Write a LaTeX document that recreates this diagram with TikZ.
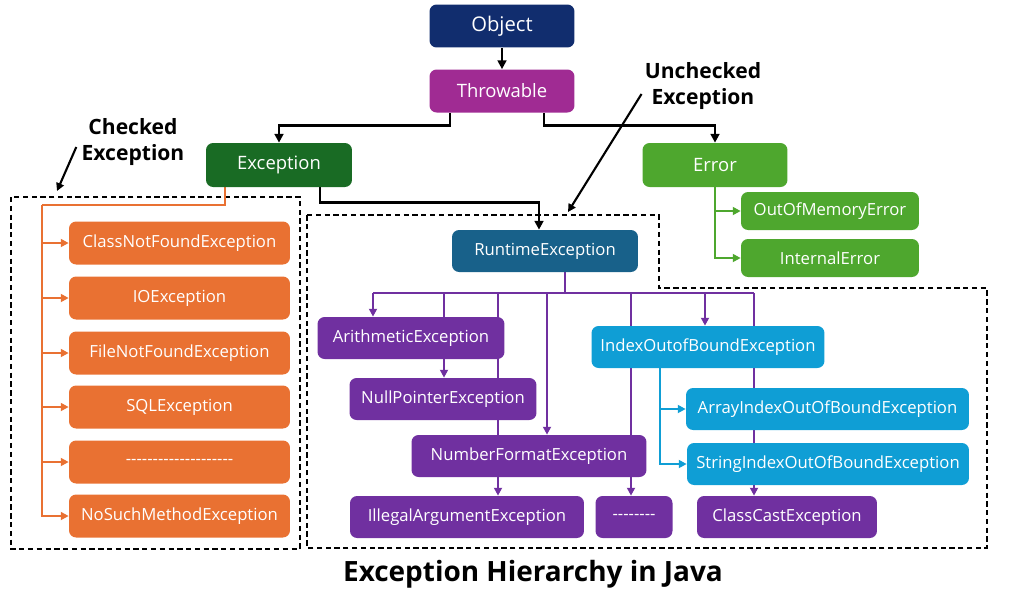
\documentclass[tikz,border=0pt]{standalone}
\usepackage{fontspec}
\setmainfont{Open Sans}[Ligatures=TeXOff]
\usetikzlibrary{arrows.meta,backgrounds}
\definecolor{cobj}{HTML}{112D6E}
\definecolor{cthr}{HTML}{A02B93}
\definecolor{cexc}{HTML}{196B24}
\definecolor{cerr}{HTML}{4EA72E}
\definecolor{cchk}{HTML}{E97132}
\definecolor{crte}{HTML}{18618A}
\definecolor{cpur}{HTML}{7030A0}
\definecolor{cblu}{HTML}{0F9ED5}
\begin{document}
\begin{tikzpicture}[x=0.02cm,y=-0.02cm,
    box/.style={rounded corners=4pt,inner sep=0pt,minimum height=0.84cm,text=white,font=\fontsize{9.5}{11}\selectfont},
    lbl/.style={inner sep=0pt,align=center,font=\bfseries\fontsize{12}{15}\selectfont},
    karr/.style={line width=1.6pt,-{Triangle[length=5pt,width=5pt]}},
    tarr/.style={line width=1.2pt,-{Triangle[length=4.5pt,width=4.5pt]}},
    cline/.style={line width=1.5pt,draw=#1},
    carr/.style={line width=1.5pt,draw=#1,-{Triangle[length=4.5pt,width=4.5pt]}},
    grp/.style={line width=0.8pt,dash pattern=on 3pt off 2pt}]
    \useasboundingbox (0,0) rectangle (1024,589);
    \node[box,fill=cobj,minimum width=2.9cm,minimum height=0.86cm] (obj) at (502,26) {\fontsize{11.5}{13}\selectfont Object};
    \node[box,fill=cthr,minimum width=2.9cm,minimum height=0.86cm] (thr) at (502,91) {\fontsize{10.5}{13}\selectfont Throwable};
    \node[box,fill=cexc,minimum width=2.92cm,minimum height=0.88cm] (exc) at (279,165) {\fontsize{10.5}{13}\selectfont Exception};
    \node[box,fill=cerr,minimum width=2.9cm,minimum height=0.88cm] (err) at (715,165) {\fontsize{10.5}{13}\selectfont Error};
    \node[box,fill=cerr,minimum width=3.56cm,minimum height=0.76cm] (oom) at (830,211) {OutOfMemoryError};
    \node[box,fill=cerr,minimum width=3.56cm,minimum height=0.76cm] (ine) at (830,258) {InternalError};
    \node[box,fill=cchk,minimum width=4.42cm,minimum height=0.86cm] (chk1) at (179.5,243) {ClassNotFoundException};
    \node[box,fill=cchk,minimum width=4.42cm,minimum height=0.86cm] (chk2) at (179.5,298) {IOException};
    \node[box,fill=cchk,minimum width=4.42cm,minimum height=0.86cm] (chk3) at (179.5,353) {FileNotFoundException};
    \node[box,fill=cchk,minimum width=4.42cm,minimum height=0.86cm] (chk4) at (179.5,407) {SQLException};
    \node[box,fill=cchk,minimum width=4.42cm,minimum height=0.86cm] (chk5) at (179.5,462) {--------------------};
    \node[box,fill=cchk,minimum width=4.42cm,minimum height=0.86cm] (chk6) at (179.5,516) {NoSuchMethodException};
    \node[box,fill=crte,minimum width=3.72cm] (rte) at (545,251) {RuntimeException};
    \node[box,fill=cpur,minimum width=3.74cm] (ari) at (411,338) {ArithmeticException};
    \node[box,fill=cpur,minimum width=3.74cm] (nul) at (443,399) {NullPointerException};
    \node[box,fill=cpur,minimum width=4.7cm] (num) at (529,456) {NumberFormatException};
    \node[box,fill=cpur,minimum width=4.68cm] (ill) at (467,517) {IllegalArgumentException};
    \node[box,fill=cpur,minimum width=1.54cm] (dsh) at (634,517) {--------};
    \node[box,fill=cblu,minimum width=4.66cm] (iob) at (708,347) {IndexOutofBoundException};
    \node[box,fill=cblu,minimum width=5.66cm] (aio) at (827.5,409) {ArrayIndexOutOfBoundException};
    \node[box,fill=cblu,minimum width=5.64cm] (sio) at (828,464) {StringIndexOutOfBoundException};
    \node[box,fill=cpur,minimum width=3.6cm] (ccx) at (787,517) {ClassCastException};
    \node[lbl] (chk) at (133,142) {Checked\\Exception};
    \node[lbl] (unc) at (703,86) {Unchecked\\Exception};
    \node[inner sep=0pt,font=\bfseries\fontsize{15.9}{18}\selectfont] (ttl) at (533,574) {Exception Hierarchy in Java};
    \coordinate (chkend) at (57,191);
    \coordinate (uncend) at (568,212);
    \coordinate (cb) at (42,205);
    \coordinate (rs) at (565,293);
    \coordinate (b1) at (373,293);
    \coordinate (b2) at (444,293);
    \coordinate (b3) at (498,293);
    \coordinate (b4) at (547,293);
    \coordinate (b5) at (631,293);
    \coordinate (b6) at (705,293);
    \coordinate (b7) at (754,293);
    \begin{scope}[on background layer]
    \draw[grp] (11,197) rectangle (300,549);
    \draw[grp] (307,215) -- (659,215) -- (659,288) -- (987,288) -- (987,548) -- (307,548) -- cycle;
    \draw[karr] (obj) -- (thr);
    \draw[karr] ([xshift=-1.04cm]thr.south) -- ++(0,12.5) -| (exc.north);
    \draw[karr] ([xshift=0.84cm]thr.south) -- ++(0,12.5) -| (err.north);
    \draw[karr] ([xshift=0.82cm]exc.south) -- ++(0,15.5) -| ([xshift=-0.12cm]rte.north);
    \draw[tarr] ([shift={(-0.1cm,-0.1cm)}]chk.west) -- (chkend);
    \draw[tarr] ([shift={(-0.06cm,-0.16cm)}]unc.west) -- (uncend);
    \draw[cline=cchk] ([xshift=-1.08cm]exc.south) |- (cb);
    \foreach \n in {chk1,chk2,chk3,chk4,chk5,chk6}
      \draw[carr=cchk] (cb) |- (\n.west);
    \draw[carr=cerr] (err.south) |- (oom.west);
    \draw[carr=cerr] (err.south) |- (ine.west);
    \draw[cline=cpur] (rs |- rte.south) -- (rs);
    \draw[cline=cpur] (b1) -- (b7);
    \draw[carr=cpur] (b1) -- (b1 |- ari.north);
    \draw[carr=cpur] (b2) -- (b2 |- nul.north);
    \draw[carr=cpur] (b3) -- (b3 |- ill.north);
    \draw[carr=cpur] (b4) -- (b4 |- num.north);
    \draw[carr=cpur] (b5) -- (b5 |- dsh.north);
    \draw[carr=cpur] (b6) -- (b6 |- iob.north);
    \draw[carr=cpur] (b7) -- (b7 |- ccx.north);
    \draw[carr=cblu] ([xshift=-0.96cm]iob.south) |- (aio.west);
    \draw[carr=cblu] ([xshift=-0.96cm]iob.south) |- (sio.west);
    \end{scope}
\end{tikzpicture}
\end{document}
